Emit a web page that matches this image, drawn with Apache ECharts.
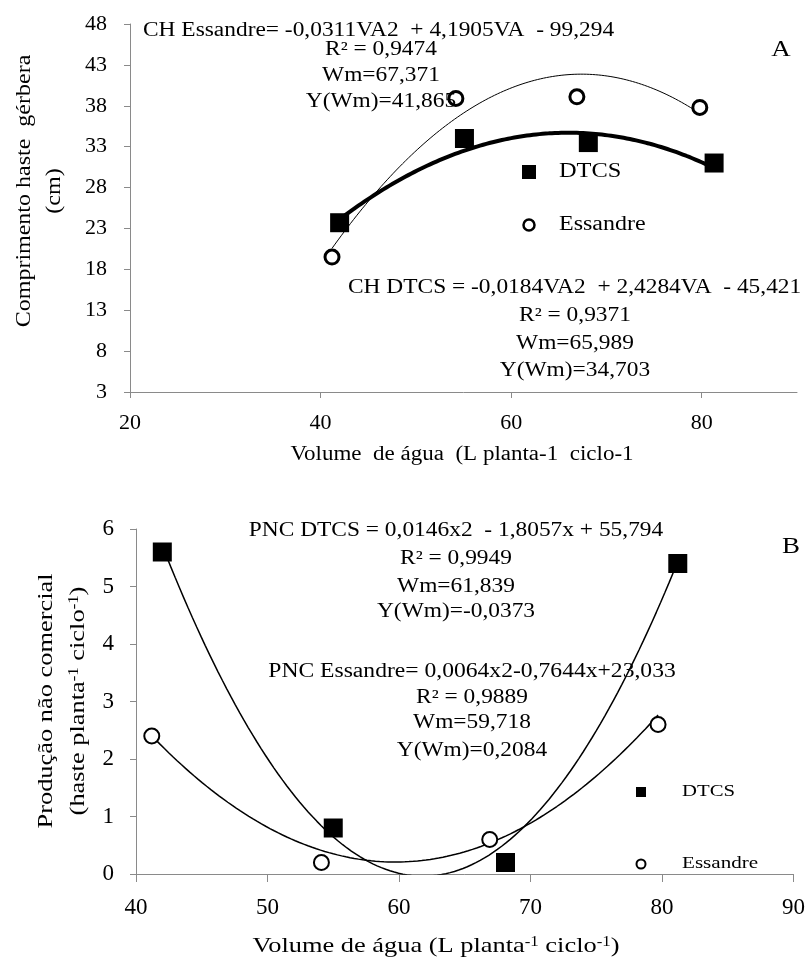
<!DOCTYPE html>
<html>
<head>
<meta charset="utf-8">
<script src="https://cdn.jsdelivr.net/npm/echarts@6/dist/echarts.min.js"></script>
<style>
  html, body { margin: 0; padding: 0; background: #fff; }
  #chart { width: 808px; height: 959px; }
</style>
</head>
<body>
<div id="chart"></div>
<script>
// --- chart A: stem length (cm) vs water volume ---
const volA_DTCS = [42, 55.1, 68.1, 81.3]
const chA_DTCS = [23.7, 34.0, 33.5, 31.0]
const volA_Ess = [41.2, 54.2, 66.9, 79.8]
const chA_Ess = [19.5, 38.9, 39.1, 37.8]
// trendline coefficients as printed (a, b, c)
const coefA_DTCS = [-0.0184, 2.4284, -45.421]
const coefA_Ess = [-0.0311, 4.1905, -99.294]
const ticksA_x = [20, 40, 60, 80]
const ticksA_y = [3, 8, 13, 18, 23, 28, 33, 38, 43, 48]

// --- chart B: non-commercial production vs water volume ---
const volB_DTCS = [42, 55, 68.1, 81.2]
const pncB_DTCS = [5.6, 0.8, 0.2, 5.4]
const volB_Ess = [41.2, 54.1, 66.9, 79.7]
const pncB_Ess = [2.4, 0.2, 0.6, 2.6]
const coefB_DTCS = [0.0146, -1.8057, 55.794]
const coefB_Ess = [0.0064, -0.7644, 23.033]
const ticksB_x = [40, 50, 60, 70, 80, 90]
const ticksB_y = [0, 1, 2, 3, 4, 5, 6]

const SERIF = '"Liberation Serif", "Times New Roman", serif'
const AXIS_GRAY = '#8a8a8a'
// the source text is set wider than plain Times
const WIDE = 1.17

function pairs(xs, ys) {
  return xs.map((x, i) => [x, ys[i]])
}

// points along the printed regression curve, between first and last measured volume
function trend(coef, xs) {
  const from = xs[0]
  const to = xs[xs.length - 1]
  const pts = []
  const n = 120
  for (let i = 0; i <= n; i++) {
    const x = from + (to - from) * i / n
    pts.push([x, coef[0] * x * x + coef[1] * x + coef[2]])
  }
  return pts
}

function valueAxis(gridIndex, min, max, ticks, fontSize, margin, tickLen) {
  return {
    type: 'value',
    gridIndex,
    min,
    max,
    splitLine: { show: false },
    axisLine: { show: true, lineStyle: { color: AXIS_GRAY, width: 1 } },
    axisTick: { show: true, length: tickLen, customValues: ticks, lineStyle: { color: AXIS_GRAY } },
    axisLabel: {
      customValues: ticks,
      color: '#000',
      fontFamily: SERIF,
      fontSize,
      margin,
    },
  }
}

function txt(x, y, text, size, align, sx, rot, rich) {
  return {
    type: 'text',
    x,
    y,
    scaleX: sx || WIDE,
    rotation: rot || 0,
    silent: true,
    z: 10,
    style: {
      text,
      rich,
      fill: '#000',
      fontFamily: SERIF,
      fontSize: size,
      align: align || 'left',
      verticalAlign: 'middle',
    },
  }
}

const supRich = { s: { fontSize: 14, fontFamily: SERIF, verticalAlign: 'top', fill: '#000' } }
const UP = Math.PI / 2

const chart = echarts.init(document.getElementById('chart'))

chart.setOption({
  animation: false,
  grid: [
    { left: 130, top: 24, width: 667, height: 368 },
    { left: 136, top: 529, width: 660, height: 345 },
  ],
  xAxis: [
    valueAxis(0, 20, 90, ticksA_x, 22, 20, 6),
    valueAxis(1, 40, 90, ticksB_x, 23, 22, 8),
  ],
  yAxis: [
    valueAxis(0, 3, 48, ticksA_y, 22, 23, 6),
    valueAxis(1, 0, 6, ticksB_y, 23, 22, 6),
  ],
  series: [
    {
      type: 'line', xAxisIndex: 0, yAxisIndex: 0, data: trend(coefA_Ess, volA_Ess),
      showSymbol: false, silent: true, lineStyle: { color: '#000', width: 1 }, z: 1,
    },
    {
      type: 'line', xAxisIndex: 0, yAxisIndex: 0, data: trend(coefA_DTCS, volA_DTCS),
      showSymbol: false, silent: true, lineStyle: { color: '#000', width: 4 }, z: 1,
    },
    {
      name: 'DTCS', type: 'scatter', xAxisIndex: 0, yAxisIndex: 0, data: pairs(volA_DTCS, chA_DTCS),
      symbol: 'rect', symbolSize: 19, itemStyle: { color: '#000', opacity: 1 }, z: 3,
    },
    {
      name: 'Essandre', type: 'scatter', xAxisIndex: 0, yAxisIndex: 0, data: pairs(volA_Ess, chA_Ess),
      symbol: 'circle', symbolSize: 14, itemStyle: { color: '#fff', borderColor: '#000', borderWidth: 3, opacity: 1 }, z: 3,
    },
    {
      type: 'line', xAxisIndex: 1, yAxisIndex: 1, data: trend(coefB_DTCS, volB_DTCS),
      showSymbol: false, silent: true, clip: true, lineStyle: { color: '#000', width: 1.5 }, z: 1,
    },
    {
      type: 'line', xAxisIndex: 1, yAxisIndex: 1, data: trend(coefB_Ess, volB_Ess),
      showSymbol: false, silent: true, clip: true, lineStyle: { color: '#000', width: 1.5 }, z: 1,
    },
    {
      name: 'DTCS', type: 'scatter', xAxisIndex: 1, yAxisIndex: 1, data: pairs(volB_DTCS, pncB_DTCS),
      symbol: 'rect', symbolSize: 19, itemStyle: { color: '#000', opacity: 1 }, z: 3,
    },
    {
      name: 'Essandre', type: 'scatter', xAxisIndex: 1, yAxisIndex: 1, data: pairs(volB_Ess, pncB_Ess),
      symbol: 'circle', symbolSize: 15, itemStyle: { color: '#fff', borderColor: '#000', borderWidth: 2, opacity: 1 }, z: 3,
    },
  ],
  graphic: [
    // chart A texts
    txt(143, 31, 'CH Essandre= -0,0311VA2  + 4,1905VA  - 99,294', 20),
    txt(381, 50, 'R² = 0,9474', 20, 'center'),
    txt(381, 76, 'Wm=67,371', 20, 'center'),
    txt(381, 102, 'Y(Wm)=41,865', 20, 'center'),
    txt(348, 288, 'CH DTCS = -0,0184VA2  + 2,4284VA  - 45,421', 20),
    txt(575, 316, 'R² = 0,9371', 20, 'center'),
    txt(575, 344, 'Wm=65,989', 20, 'center'),
    txt(575, 371, 'Y(Wm)=34,703', 20, 'center'),
    txt(781, 50, 'A', 23, 'center'),
    txt(462, 455, 'Volume  de água  (L planta-1  ciclo-1', 20, 'center', 1.15),
    txt(25, 191, 'Comprimento haste  gérbera', 20, 'center', 1.2, UP),
    txt(55, 191, '(cm)', 20, 'center', 1.2, UP),
    // legend A
    { type: 'rect', shape: { x: 522, y: 165, width: 14, height: 14 }, style: { fill: '#000' }, silent: true },
    txt(559, 172, 'DTCS', 20, 'left', 1.22),
    { type: 'circle', shape: { cx: 529, cy: 225, r: 5.5 }, style: { fill: '#fff', stroke: '#000', lineWidth: 2.5 }, silent: true },
    txt(559, 225, 'Essandre', 20, 'left', 1.2),

    // chart B texts
    txt(456, 531, 'PNC DTCS = 0,0146x2  - 1,8057x + 55,794', 20, 'center'),
    txt(456, 559, 'R² = 0,9949', 20, 'center'),
    txt(456, 587, 'Wm=61,839', 20, 'center'),
    txt(456, 612, 'Y(Wm)=-0,0373', 20, 'center'),
    txt(472, 672, 'PNC Essandre= 0,0064x2-0,7644x+23,033', 20, 'center', 1.18),
    txt(472, 698, 'R² = 0,9889', 20, 'center'),
    txt(472, 723, 'Wm=59,718', 20, 'center'),
    txt(472, 751, 'Y(Wm)=0,2084', 20, 'center'),
    txt(791, 547, 'B', 23, 'center'),
    txt(436, 946, 'Volume de água (L planta{s|-1} ciclo{s|-1})', 22, 'center', 1.2, 0, supRich),
    txt(46, 701, 'Produção não comercial', 22, 'center', 1.2, UP),
    txt(78, 701, '(haste planta{s|-1} ciclo{s|-1})', 22, 'center', 1.2, UP, supRich),
    // legend B
    { type: 'rect', shape: { x: 636, y: 787, width: 10, height: 10 }, style: { fill: '#000' }, silent: true },
    txt(682, 792, 'DTCS', 17, 'left', 1.22),
    { type: 'circle', shape: { cx: 641, cy: 864, r: 4.5 }, style: { fill: '#fff', stroke: '#000', lineWidth: 2 }, silent: true },
    txt(682, 864, 'Essandre', 17, 'left', 1.24),
  ],
})
</script>
</body>
</html>
